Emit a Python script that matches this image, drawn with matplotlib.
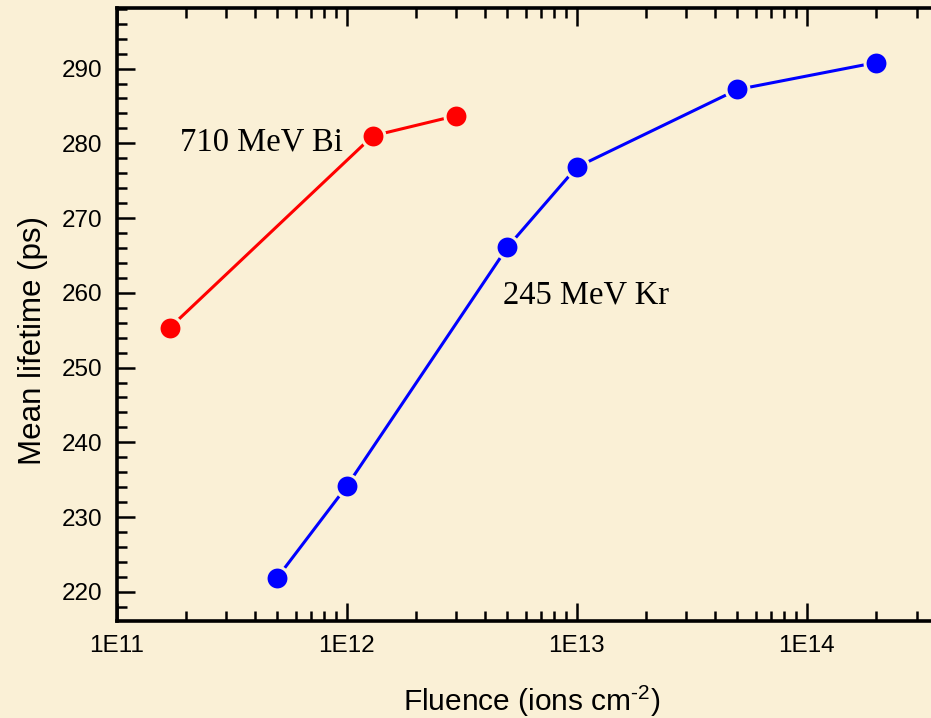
import numpy as np
import matplotlib
matplotlib.use("Agg")
import matplotlib.pyplot as plt
from matplotlib.ticker import LogLocator, MultipleLocator, FixedLocator

# data
bi_fluence = [1.7e11, 1.3e12, 3.0e12]
bi_lifetime = [255.3, 281.0, 283.7]

kr_fluence = [5e11, 1e12, 5e12, 1e13, 5e13, 2e14]
kr_lifetime = [221.9, 234.1, 266.1, 276.8, 287.2, 290.8]

x_ticks = [1e11, 1e12, 1e13, 1e14]
x_tick_labels = ["1E11", "1E12", "1E13", "1E14"]

bg = "#FAF0D6"

plt.rcParams["mathtext.fontset"] = "custom"
plt.rcParams["mathtext.rm"] = "Liberation Sans"
plt.rcParams["mathtext.it"] = "Liberation Sans"

fig = plt.figure(figsize=(9.31, 7.18), dpi=100, facecolor=bg)
ax = fig.add_axes([116.5 / 931, 1 - 621 / 718, 1 - 116.5 / 931, 613 / 718])
ax.set_facecolor(bg)

style = dict(marker="o", markersize=16.5, markeredgewidth=2.2,
             markeredgecolor=bg, linewidth=2.2)
ax.plot(bi_fluence, bi_lifetime, color="#FF0000", **style)
ax.plot(kr_fluence, kr_lifetime, color="#0000FF", **style)

ax.set_xscale("log")
ax.set_xlim(1e11, 10 ** 14.54)
ax.set_ylim(216.1, 298.1)

# osy
ax.xaxis.set_major_locator(FixedLocator(x_ticks))
ax.set_xticklabels(x_tick_labels)
ax.xaxis.set_minor_locator(LogLocator(base=10, subs=np.arange(2, 10)))
ax.xaxis.set_minor_formatter(plt.NullFormatter())
ax.set_yticks([220, 230, 240, 250, 260, 270, 280, 290])
ax.yaxis.set_minor_locator(MultipleLocator(2))

ax.tick_params(which="both", direction="in", top=True, right=False,
               width=1.8, labelsize=17.5, colors="black")
ax.tick_params(which="major", length=13, pad=10)
ax.tick_params(which="minor", length=7)
for lab in ax.get_xticklabels() + ax.get_yticklabels():
    lab.set_fontfamily("Liberation Sans")

for side in ["left", "top", "bottom"]:
    ax.spines[side].set_linewidth(2.6)
ax.spines["right"].set_visible(False)

ax.set_xlabel(r"Fluence (ions cm$^{\text{-2}}$)", fontsize=21.5,
              fontfamily="Liberation Sans")
ax.set_ylabel("Mean lifetime (ps)", fontsize=22.5,
              fontfamily="Liberation Sans")
ax.xaxis.set_label_coords(0.51, -0.103)
ax.yaxis.set_label_coords(-0.084, 0.458)

ax.text(4.28e11, 280.2, "710 MeV Bi", fontsize=23.5,
        fontfamily="Liberation Serif", ha="center", va="center")
ax.text(1.1e13, 259.7, "245 MeV Kr", fontsize=23.5,
        fontfamily="Liberation Serif", ha="center", va="center")

fig.savefig("out.png", dpi=100, facecolor=bg)
